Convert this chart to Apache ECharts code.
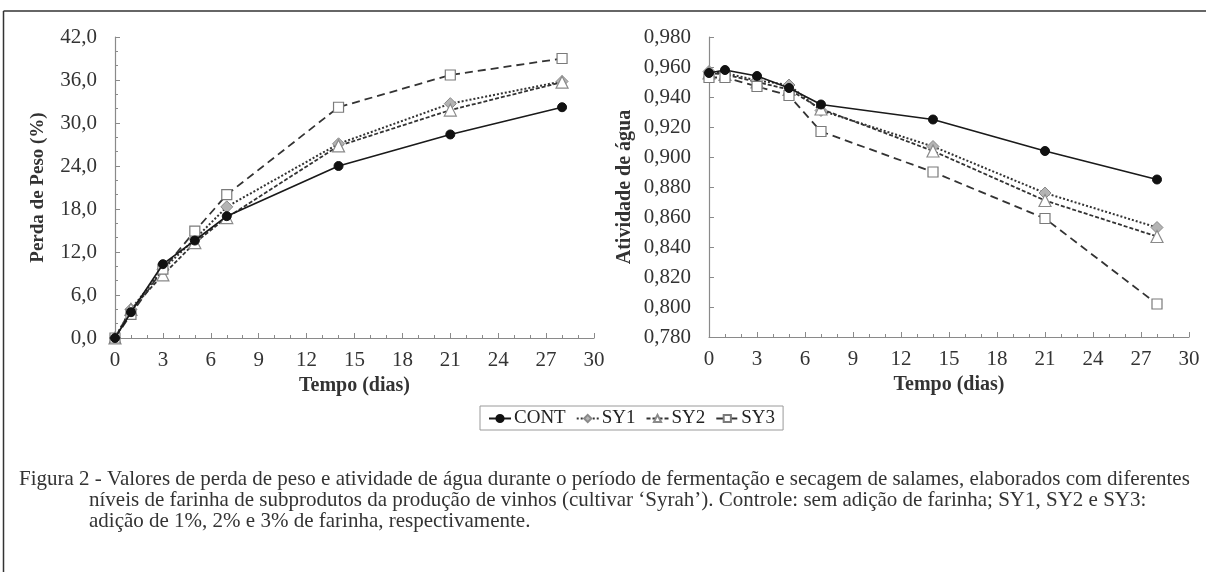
<!DOCTYPE html>
<html>
<head>
<meta charset="utf-8">
<script src="https://cdn.jsdelivr.net/npm/echarts@6/dist/echarts.min.js"></script>
<style>
html,body{margin:0;padding:0;background:#fff;}
#chart{width:1206px;height:572px;}
</style>
</head>
<body>
<div id="chart"></div>
<script>
// ---- data ----
const days = [0, 1, 3, 5, 7, 14, 21, 28];
const seriesNames = ['CONT', 'SY1', 'SY2', 'SY3'];

// Perda de Peso (%)
const contPeso = [0, 3.6, 10.3, 13.6, 17.0, 24.0, 28.4, 32.2];
const sy1Peso  = [0, 4.0, 9.6, 13.8, 18.3, 27.1, 32.7, 35.8];
const sy2Peso  = [0, 4.0, 8.8, 13.3, 16.8, 26.8, 31.8, 35.7];
const sy3Peso  = [0, 3.3, 9.6, 14.9, 20.0, 32.2, 36.7, 39.0];

// Atividade de água
const contAw = [0.956, 0.958, 0.954, 0.946, 0.935, 0.925, 0.904, 0.885];
const sy1Aw  = [0.957, 0.956, 0.951, 0.948, 0.931, 0.907, 0.876, 0.853];
const sy2Aw  = [0.956, 0.955, 0.950, 0.945, 0.932, 0.904, 0.871, 0.847];
const sy3Aw  = [0.953, 0.953, 0.947, 0.941, 0.917, 0.890, 0.859, 0.802];

const xAxisTitle = 'Tempo (dias)';
const yTitleLeft = 'Perda de Peso (%)';
const yTitleRight = 'Atividade de água';
const captionLines = [
  'Figura 2 - Valores de perda de peso e atividade de água durante o período de fermentação e secagem de salames, elaborados com diferentes',
  'níveis de farinha de subprodutos da produção de vinhos (cultivar ‘Syrah’). Controle: sem adição de farinha; SY1, SY2 e SY3:',
  'adição de 1%, 2% e 3% de farinha, respectivamente.'
];

// ---- styling ----
const FONT = '"Liberation Serif", "Times New Roman", serif';
const TXT = '#333';
const AX = '#8a8a8a';

const styles = {
  CONT: {symbol: 'circle', symbolSize: 9, line: {color: '#1a1a1a', width: 1.7, type: 'solid'}, item: {color: '#111', borderColor: '#111', borderWidth: 1}},
  SY1: {symbol: 'diamond', symbolSize: 12, line: {color: '#333', width: 2, type: [2, 2]}, item: {color: '#b4b4b4', borderColor: '#8a8a8a', borderWidth: 1}},
  SY2: {symbol: 'triangle', symbolSize: 12, line: {color: '#333', width: 1.8, type: [4, 2]}, item: {color: '#fff', borderColor: '#8a8a8a', borderWidth: 1.2}},
  SY3: {symbol: 'rect', symbolSize: 10, line: {color: '#333', width: 1.8, type: [8, 5]}, item: {color: '#fff', borderColor: '#7a7a7a', borderWidth: 1.2}}
};

function xAxisCfg(gi) {
  return {
    type: 'value', gridIndex: gi, min: 0, max: 30, interval: 3,
    name: xAxisTitle, nameLocation: 'middle', nameGap: 37,
    nameTextStyle: {fontFamily: FONT, fontSize: 20, fontWeight: 'bold', color: TXT},
    axisLine: {show: true, lineStyle: {color: AX, width: 1.2}},
    axisTick: {show: true, inside: true, length: 5, lineStyle: {color: AX}},
    minorTick: {show: true, splitNumber: 3, length: 3, lineStyle: {color: AX}},
    splitLine: {show: false},
    axisLabel: {fontFamily: FONT, fontSize: 21, color: TXT, margin: 12}
  };
}

const option = {
  animation: false,
  backgroundColor: '#fff',
  grid: [
    {left: 115, top: 37, width: 479, height: 301},
    {left: 709, top: 37, width: 480, height: 300}
  ],
  xAxis: [xAxisCfg(0), xAxisCfg(1)],
  yAxis: [
    {
      type: 'value', gridIndex: 0, min: 0, max: 42, interval: 6,
      name: yTitleLeft, nameLocation: 'middle', nameGap: 67,
      nameTextStyle: {fontFamily: FONT, fontSize: 19, fontWeight: 'bold', color: TXT},
      axisLine: {show: true, lineStyle: {color: AX, width: 1.2}},
      axisTick: {show: true, inside: true, length: 5, lineStyle: {color: AX}},
      minorTick: {show: true, splitNumber: 3, length: 3, lineStyle: {color: AX}},
      splitLine: {show: false},
      axisLabel: {fontFamily: FONT, fontSize: 21, color: TXT, margin: 18,
        formatter: v => v.toFixed(1).replace('.', ',')}
    },
    {
      type: 'value', gridIndex: 1, min: 0.78, max: 0.98, interval: 0.02,
      name: yTitleRight, nameLocation: 'middle', nameGap: 74,
      nameTextStyle: {fontFamily: FONT, fontSize: 20, fontWeight: 'bold', color: TXT},
      axisLine: {show: true, lineStyle: {color: AX, width: 1.2}},
      axisTick: {show: true, inside: true, length: 5, lineStyle: {color: AX}},
      splitLine: {show: false},
      axisLabel: {fontFamily: FONT, fontSize: 21, color: TXT, margin: 18,
        formatter: v => v.toFixed(3).replace('.', ',')}
    }
  ],
  legend: {
    data: seriesNames,
    left: 480, top: 406,
    padding: [3, 8, 2, 8],
    borderColor: '#9a9a9a', borderWidth: 1,
    itemWidth: 22, itemHeight: 9, itemGap: 10,
    textStyle: {fontFamily: FONT, fontSize: 19, color: '#222', padding: [0, 0, 0, -2]}
  },
  graphic: [
    {type: 'line', shape: {x1: 3.5, y1: 11, x2: 1206, y2: 11}, style: {stroke: '#333', lineWidth: 1.5}},
    {type: 'line', shape: {x1: 3.5, y1: 11, x2: 3.5, y2: 572}, style: {stroke: '#333', lineWidth: 1.5}},
    {type: 'text', left: 19, top: 469, style: {text: captionLines[0], font: '21px ' + FONT, fill: TXT}},
    {type: 'text', left: 89, top: 490, style: {text: captionLines[1], font: '21px ' + FONT, fill: TXT}},
    {type: 'text', left: 89, top: 511, style: {text: captionLines[2], font: '21px ' + FONT, fill: TXT}}
  ],
  series: []
};

const peso = {CONT: contPeso, SY1: sy1Peso, SY2: sy2Peso, SY3: sy3Peso};
const aw = {CONT: contAw, SY1: sy1Aw, SY2: sy2Aw, SY3: sy3Aw};
[[peso, 0], [aw, 1]].forEach(([set, gi]) => {
  seriesNames.forEach(n => {
    const s = styles[n];
    option.series.push({
      name: n, type: 'line', xAxisIndex: gi, yAxisIndex: gi,
      data: days.map((d, i) => [d, set[n][i]]),
      symbol: s.symbol, symbolSize: s.symbolSize, showSymbol: true,
      lineStyle: s.line, itemStyle: s.item,
      z: n === 'CONT' ? 3 : 2
    });
  });
});

const chart = echarts.init(document.getElementById('chart'), null, {renderer: 'canvas'});
chart.setOption(option);
</script>
</body>
</html>
